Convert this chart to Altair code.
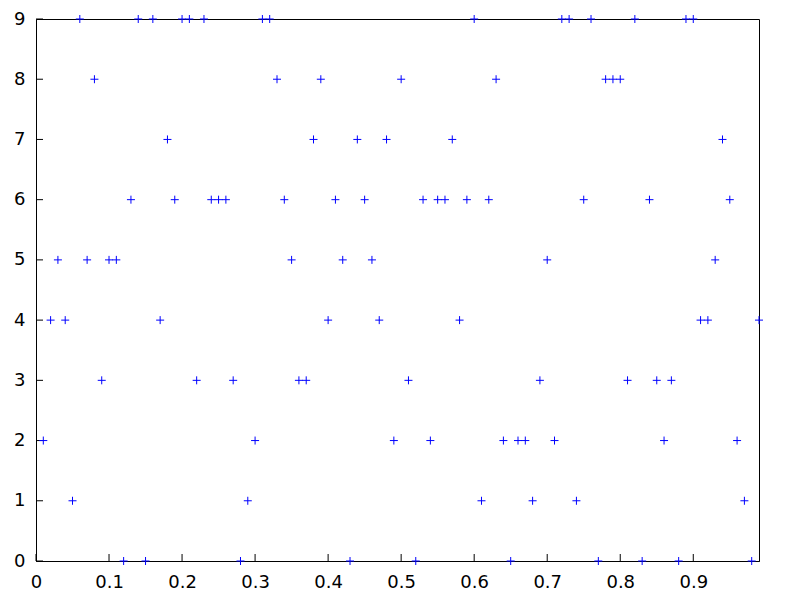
import altair as alt
import pandas as pd

# Data
x_vals = [round(0.01 * i, 2) for i in range(1, 100)]
y_vals = [2, 4, 5, 4, 1, 9, 5, 8, 3, 5,
          5, 0, 6, 9, 0, 9, 4, 7, 6, 9,
          9, 3, 9, 6, 6, 6, 3, 0, 1, 2,
          9, 9, 8, 6, 5, 3, 3, 7, 8, 4,
          6, 5, 0, 7, 6, 5, 4, 7, 2, 8,
          3, 0, 6, 2, 6, 6, 7, 4, 6, 9,
          1, 6, 8, 2, 0, 2, 2, 1, 3, 5,
          2, 9, 9, 1, 6, 9, 0, 8, 8, 8,
          3, 9, 0, 6, 3, 2, 3, 0, 9, 9,
          4, 4, 5, 7, 6, 2, 1, 0, 4]

x_ticks = [0, 0.1, 0.2, 0.3, 0.4, 0.5, 0.6, 0.7, 0.8, 0.9]
y_ticks = [0, 1, 2, 3, 4, 5, 6, 7, 8, 9]

W, H = 723, 542
TICK = 7
FS = 18

pts = pd.DataFrame({"x": x_vals, "y": y_vals})
xt = pd.DataFrame({"x": x_ticks})
yt = pd.DataFrame({"y": y_ticks})

xscale = alt.Scale(domain=[0, 0.99], nice=False, zero=False)
yscale = alt.Scale(domain=[0, 9], nice=False)
xaxis = alt.Axis(values=x_ticks, format="~g", title=None, ticks=False,
                 labelPadding=12, grid=False, labelFlush=False,
                 labelFont="DejaVu Sans", labelFontSize=FS, labelColor="black",
                 domainColor="black")
yaxis = alt.Axis(values=y_ticks, format="d", title=None, ticks=False,
                 labelPadding=11, grid=False, labelFlush=False,
                 labelFont="DejaVu Sans", labelFontSize=FS, labelColor="black",
                 domainColor="black")

points = alt.Chart(pts).mark_point(
    shape="M-1,0L1,0M0,-1L0,1", filled=False, color="#0000ff",
    strokeWidth=1, size=64, opacity=1
).encode(
    x=alt.X("x:Q", scale=xscale, axis=xaxis),
    y=alt.Y("y:Q", scale=yscale, axis=yaxis),
)

xtick_rules = alt.Chart(xt).mark_rule(color="black", strokeWidth=1).encode(
    x=alt.X("x:Q", scale=xscale, axis=xaxis),
    y=alt.value(H),
    y2=alt.value(H - TICK),
)

ytick_rules = alt.Chart(yt).mark_rule(color="black", strokeWidth=1).encode(
    y=alt.Y("y:Q", scale=yscale, axis=yaxis),
    x=alt.value(0),
    x2=alt.value(TICK),
)

chart = alt.layer(xtick_rules, ytick_rules, points).properties(
    width=W, height=H,
    autosize=alt.AutoSizeParams(type="none"),
    padding={"left": 28, "top": 11, "right": 33, "bottom": 31},
).configure_view(
    stroke="black", strokeWidth=1
).configure_axis(
    domainColor="black", domainWidth=1,
    labelColor="black", labelFont="DejaVu Sans", labelFontSize=FS,
)

chart.save("out.html", embed_options={"renderer": "svg", "actions": False})
